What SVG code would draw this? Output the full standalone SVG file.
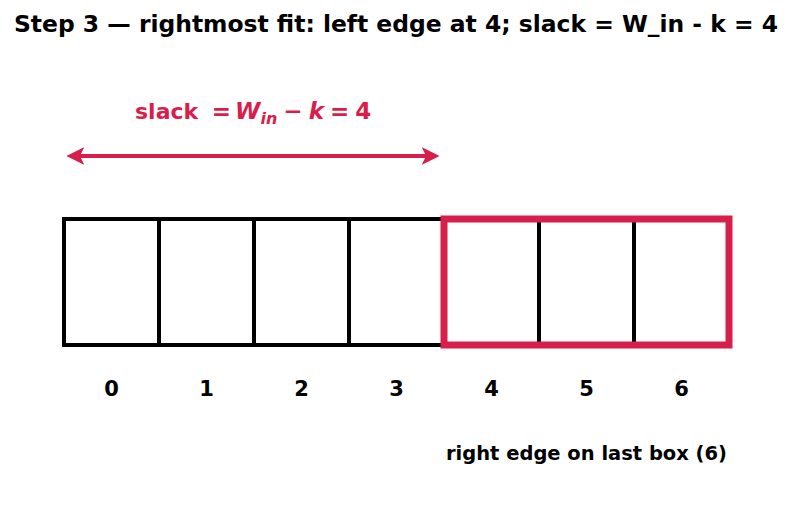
<svg xmlns="http://www.w3.org/2000/svg" width="792" height="510" viewBox="0 0 792 510">
<style>
text{font-family:"DejaVu Sans",sans-serif;font-weight:bold}
.box{fill:none;stroke:#000;stroke-width:4}
.idx{font-size:21px;text-anchor:middle;fill:#000}
.red{fill:#d81e4a}
</style>
<defs>
<marker id="ah" viewBox="0 0 10 10" refX="8" refY="5" markerWidth="4.5" markerHeight="4.5" orient="auto-start-reverse" markerUnits="strokeWidth">
<path d="M0,0 L10,5 L0,10 L2.5,5 Z" fill="#d81e4a"/>
</marker>
</defs>
<rect width="792" height="510" fill="#fff"/>
<text x="396" y="32" font-size="23" text-anchor="middle" textLength="764" lengthAdjust="spacingAndGlyphs">Step 3 — rightmost fit: left edge at 4; slack = W_in - k = 4</text>
<g id="slack-label">
<text x="135" y="119" font-size="22" class="red">slack <tspan dx="6" font-size="23">=</tspan><tspan font-style="italic" dx="4" font-size="23">W</tspan><tspan font-style="italic" font-size="16" dy="5">in</tspan><tspan dy="-5" dx="6" font-size="23">−</tspan><tspan font-style="italic" dx="6" font-size="23">k</tspan><tspan dx="6" font-size="23">=</tspan><tspan dx="6" font-size="23">4</tspan></text>
</g>
<g id="connectors">
<line x1="70" y1="156" x2="436" y2="156" stroke="#d81e4a" stroke-width="4" marker-start="url(#ah)" marker-end="url(#ah)"/>
</g>
<g id="box0"><rect class="box" x="64" y="219" width="95" height="126"/><text class="idx" x="111.5" y="396">0</text></g>
<g id="box1"><rect class="box" x="159" y="219" width="95" height="126"/><text class="idx" x="206.5" y="396">1</text></g>
<g id="box2"><rect class="box" x="254" y="219" width="95" height="126"/><text class="idx" x="301.5" y="396">2</text></g>
<g id="box3"><rect class="box" x="349" y="219" width="95" height="126"/><text class="idx" x="396.5" y="396">3</text></g>
<g id="box4"><rect class="box" x="444" y="219" width="95" height="126"/><text class="idx" x="491.5" y="396">4</text></g>
<g id="box5"><rect class="box" x="539" y="219" width="95" height="126"/><text class="idx" x="586.5" y="396">5</text></g>
<g id="box6"><rect class="box" x="634" y="219" width="95" height="126"/><text class="idx" x="681.5" y="396">6</text></g>
<g id="window"><rect x="444" y="219" width="285" height="126" fill="none" stroke="#d81e4a" stroke-width="7"/></g>
<g id="note"><text x="446" y="460" font-size="19.5" textLength="281" lengthAdjust="spacingAndGlyphs">right edge on last box (6)</text></g>
</svg>
